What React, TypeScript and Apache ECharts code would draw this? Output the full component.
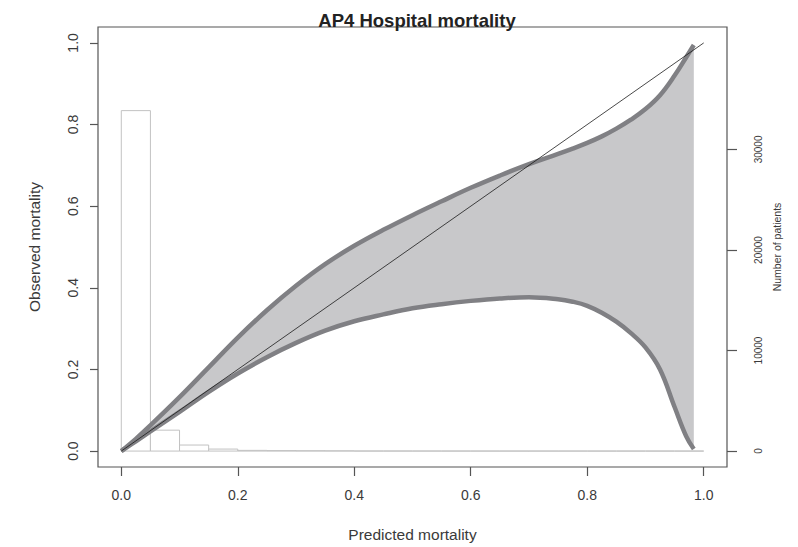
import React, { useEffect, useRef } from "react";
import * as echarts from "echarts";

// Predicted-mortality grid for the calibration band
const predicted = [0, 0.025, 0.05, 0.1, 0.15, 0.2, 0.25, 0.3, 0.35, 0.4, 0.45, 0.5, 0.55, 0.6, 0.65, 0.7, 0.75, 0.775, 0.8, 0.825, 0.85, 0.875, 0.9, 0.925, 0.95, 0.97, 0.983];
// Upper and lower limits of observed mortality
const upperBand = [0, 0.03, 0.063, 0.132, 0.205, 0.278, 0.345, 0.405, 0.458, 0.503, 0.542, 0.578, 0.612, 0.645, 0.675, 0.703, 0.728, 0.741, 0.755, 0.771, 0.79, 0.812, 0.838, 0.872, 0.92, 0.965, 0.995];
const lowerBand = [0, 0.024, 0.048, 0.096, 0.145, 0.19, 0.23, 0.265, 0.295, 0.318, 0.335, 0.35, 0.36, 0.368, 0.374, 0.377, 0.372, 0.366, 0.356, 0.339, 0.317, 0.289, 0.254, 0.2, 0.108, 0.036, 0.005];

// Histogram of patients per predicted-mortality bin (width 0.05)
const binStart = [0, 0.05, 0.1, 0.15, 0.2, 0.25, 0.3, 0.35, 0.4, 0.45, 0.5, 0.55, 0.6, 0.65, 0.7, 0.75, 0.8, 0.85, 0.9, 0.95];
const binWidth = 0.05;
const patientCounts = [33860, 2080, 600, 200, 70, 45, 35, 25, 10, 8, 6, 5, 4, 4, 3, 3, 2, 2, 2, 1];

const xTicks = [0, 0.2, 0.4, 0.6, 0.8, 1.0];
const yTicks = [0, 0.2, 0.4, 0.6, 0.8, 1.0];
const countTicks = [0, 10000, 20000, 30000];

const FONT = "'Liberation Sans', Arial, sans-serif";
const TEXT = "#3a3a3a";
const AXIS = "#555555";

export default function App() {
  const ref = useRef<HTMLDivElement>(null);

  useEffect(() => {
    if (!ref.current) return;
    const chart = echarts.init(ref.current, undefined, { renderer: "svg" });

    const bandData = predicted.map((x, i) => [x, lowerBand[i], upperBand[i]]);
    const histData = binStart.map((x, i) => [x, x + binWidth, patientCounts[i]]);

    const option: any = {
      animation: false,
      backgroundColor: "#ffffff",
      textStyle: { fontFamily: FONT },
      title: {
        text: "AP4 Hospital mortality",
        left: 412,
        textAlign: "center",
        top: 6,
        textStyle: { fontFamily: FONT, fontSize: 18.5, fontWeight: "bold", color: "#222" },
      },
      grid: {
        left: 98,
        right: 71,
        top: 27,
        bottom: 78,
        show: true,
        borderColor: AXIS,
        borderWidth: 1.2,
        backgroundColor: "transparent",
      },
      xAxis: {
        type: "value",
        min: -0.04,
        max: 1.04,
        axisLine: { show: false, onZero: false },
        splitLine: { show: false },
        axisTick: { show: true, length: 9, customValues: xTicks, lineStyle: { color: AXIS, width: 1.2 } },
        axisLabel: {
          customValues: xTicks,
          formatter: (v: number) => v.toFixed(1),
          fontSize: 14,
          color: TEXT,
          margin: 21,
          fontFamily: FONT,
        },
        name: "Predicted mortality",
        nameLocation: "middle",
        nameGap: 59,
        nameTextStyle: { fontSize: 15.5, color: TEXT, fontFamily: FONT },
      },
      yAxis: [
        {
          type: "value",
          position: "left",
          min: -0.039,
          max: 1.039,
          axisLine: { show: false, onZero: false },
          splitLine: { show: false },
          axisTick: { show: true, length: 8, customValues: yTicks, lineStyle: { color: AXIS, width: 1.2 } },
          axisLabel: {
            customValues: yTicks,
            formatter: (v: number) => v.toFixed(1),
            rotate: 90,
            fontSize: 14,
            color: TEXT,
            margin: 18,
            fontFamily: FONT,
          },
          name: "Observed mortality",
          nameLocation: "middle",
          nameRotate: 90,
          nameGap: 56,
          nameTextStyle: { fontSize: 15.5, color: TEXT, fontFamily: FONT },
        },
        {
          type: "value",
          position: "right",
          min: -1584,
          max: 42178,
          axisLine: { show: false, onZero: false },
          splitLine: { show: false },
          axisTick: { show: true, length: 10, customValues: countTicks, lineStyle: { color: AXIS, width: 1.2 } },
          axisLabel: {
            customValues: countTicks,
            formatter: (v: number) => String(Math.round(v)),
            rotate: 90,
            fontSize: 10,
            color: TEXT,
            margin: 26,
            fontFamily: FONT,
          },
          name: "Number of patients",
          nameLocation: "middle",
          nameRotate: 90,
          nameGap: 44,
          nameTextStyle: { fontSize: 10.5, color: TEXT, fontFamily: FONT },
        },
      ],
      series: [
        {
          type: "custom",
          name: "patients",
          xAxisIndex: 0,
          yAxisIndex: 1,
          silent: true,
          z: 1,
          data: histData,
          renderItem: (params: any, api: any) => {
            const x0 = api.value(0);
            const x1 = api.value(1);
            const n = api.value(2);
            const p0 = api.coord([x0, n]);
            const p1 = api.coord([x1, 0]);
            return {
              type: "rect",
              shape: { x: p0[0], y: p0[1], width: p1[0] - p0[0], height: p1[1] - p0[1] },
              style: { fill: "#ffffff", stroke: "#c2c2c2", lineWidth: 1 },
            };
          },
        },
        {
          type: "custom",
          name: "band",
          xAxisIndex: 0,
          yAxisIndex: 0,
          silent: true,
          z: 2,
          data: [0],
          renderItem: (params: any, api: any) => {
            const top = bandData.map((d) => api.coord([d[0], d[2]]));
            const bottom = bandData.map((d) => api.coord([d[0], d[1]])).reverse();
            return {
              type: "polygon",
              shape: { points: top.concat(bottom), smooth: 0 },
              style: { fill: "#c8c8ca", stroke: "none" },
            };
          },
        },
        {
          type: "line",
          name: "upper",
          data: predicted.map((x, i) => [x, upperBand[i]]),
          smooth: 0.4,
          showSymbol: false,
          silent: true,
          z: 3,
          lineStyle: { color: "#808084", width: 4.5 },
        },
        {
          type: "line",
          name: "lower",
          data: predicted.map((x, i) => [x, lowerBand[i]]),
          smooth: 0.4,
          showSymbol: false,
          silent: true,
          z: 3,
          lineStyle: { color: "#808084", width: 4.5 },
        },
        {
          type: "line",
          name: "identity",
          data: [[0, 0], [1, 1]],
          showSymbol: false,
          silent: true,
          z: 4,
          lineStyle: { color: "#1a1a1a", width: 0.8 },
        },
      ],
    };

    chart.setOption(option);
    return () => chart.dispose();
  }, []);

  return (
    <div
      ref={ref}
      style={{ position: "fixed", left: 0, top: 0, width: 798, height: 547 }}
    />
  );
}
